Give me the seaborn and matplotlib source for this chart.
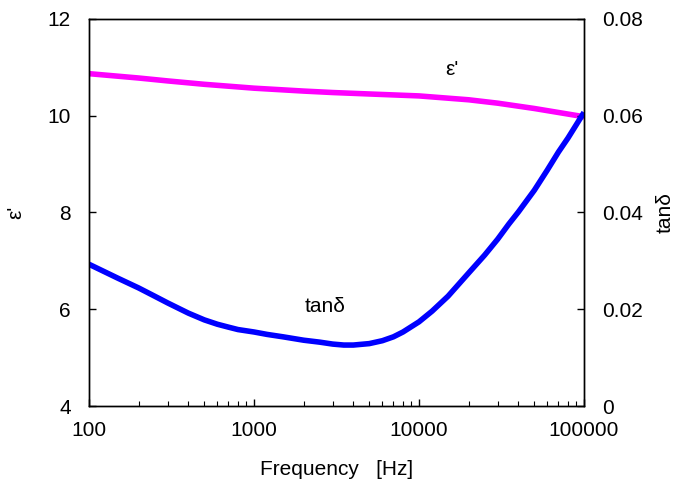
import matplotlib
matplotlib.use("Agg")
import matplotlib.pyplot as plt
import seaborn as sns
import pandas as pd
from matplotlib.ticker import LogLocator, FixedLocator, NullFormatter, FixedFormatter

# Dielectric permittivity vs frequency
eps_freq = [100, 200, 300, 500, 1000, 2000, 3000, 5000, 10000, 20000, 30000,
            50000, 100000]
eps_vals = [10.87, 10.78, 10.72, 10.65, 10.57, 10.51, 10.48, 10.45, 10.41,
            10.33, 10.26, 10.15, 9.98]

# Loss tangent vs frequency
tan_freq = [100, 150, 200, 250, 300, 400, 500, 600, 700, 800, 1000, 1200,
            1500, 2000, 2500, 3000, 3500, 4000, 5000, 6000, 7000, 8000, 10000,
            12000, 15000, 20000, 25000, 30000, 35000, 40000, 50000, 60000,
            70000, 80000, 100000]
tan_vals = [0.0293, 0.0264, 0.0244, 0.0227, 0.0213, 0.0192, 0.0178, 0.0169,
            0.0163, 0.0158, 0.0153, 0.0148, 0.0143, 0.0136, 0.0132, 0.0128,
            0.0126, 0.0126, 0.0129, 0.0135, 0.0143, 0.0153, 0.0174, 0.0196,
            0.0227, 0.0275, 0.0312, 0.0345, 0.0376, 0.0401, 0.0446, 0.0488,
            0.0525, 0.0554, 0.0607]

x_ticks = [100, 1000, 10000, 100000]
x_tick_labels = ["100", "1000", "10000", "100000"]
left_ticks = [4, 6, 8, 10, 12]
right_ticks = [0, 0.02, 0.04, 0.06, 0.08]
right_tick_labels = ["0", "0.02", "0.04", "0.06", "0.08"]

sns.set_style("ticks")
plt.rcParams["font.family"] = ["Liberation Sans", "DejaVu Sans"]
plt.rcParams["text.color"] = "black"
plt.rcParams["axes.labelcolor"] = "black"
plt.rcParams["xtick.color"] = "black"
plt.rcParams["ytick.color"] = "black"

eps_df = pd.DataFrame({"freq": eps_freq, "eps": eps_vals})
tan_df = pd.DataFrame({"freq": tan_freq, "tan": tan_vals})

fig = plt.figure(figsize=(6.86, 4.90), dpi=100)
ax = fig.add_axes([89 / 686, 84 / 490, 495 / 686, 387 / 490])
ax2 = ax.twinx()

sns.lineplot(data=eps_df, x="freq", y="eps", ax=ax, color="#FF00FF",
             linewidth=4.0, solid_capstyle="butt", solid_joinstyle="round")
sns.lineplot(data=tan_df, x="freq", y="tan", ax=ax2, color="#0000FF",
             linewidth=4.0, solid_capstyle="butt", solid_joinstyle="round")

ax.set_xscale("log")
ax.set_xlim(100, 100000)
ax.set_ylim(4, 12)
ax2.set_ylim(0, 0.08)

ax.xaxis.set_major_locator(FixedLocator(x_ticks))
ax.xaxis.set_major_formatter(FixedFormatter(x_tick_labels))
ax.xaxis.set_minor_locator(LogLocator(base=10, subs=range(2, 10)))
ax.xaxis.set_minor_formatter(NullFormatter())
ax.set_yticks(left_ticks)
ax2.set_yticks(right_ticks)
ax2.set_yticklabels(right_tick_labels)

for a in (ax, ax2):
    for s in a.spines.values():
        s.set_visible(True)
        s.set_linewidth(1.0)
        s.set_color("black")

ax.tick_params(axis="x", which="major", direction="in", length=5, width=1,
               pad=11, labelsize=15, top=False, colors="black")
ax.tick_params(axis="x", which="minor", direction="in", length=3.5, width=0.8,
               top=False, colors="black")
ax.tick_params(axis="y", which="major", direction="in", length=5, width=1,
               pad=13, labelsize=15, right=False, colors="black")
ax2.tick_params(axis="y", which="major", direction="in", length=5, width=1,
                pad=13, labelsize=15, colors="black")

ax.set_xlabel("Frequency   [Hz]", fontsize=15, labelpad=14, color="black")
ax.set_ylabel("ε'", fontsize=15, labelpad=16, color="black")
ax2.set_ylabel("tanδ", fontsize=15, labelpad=9, color="black")

ax.text(15800, 10.95, "ε'", fontsize=15, ha="center", va="center")
ax.text(2700, 6.05, "tanδ", fontsize=15, ha="center", va="center")

fig.savefig("out.png", dpi=100)
